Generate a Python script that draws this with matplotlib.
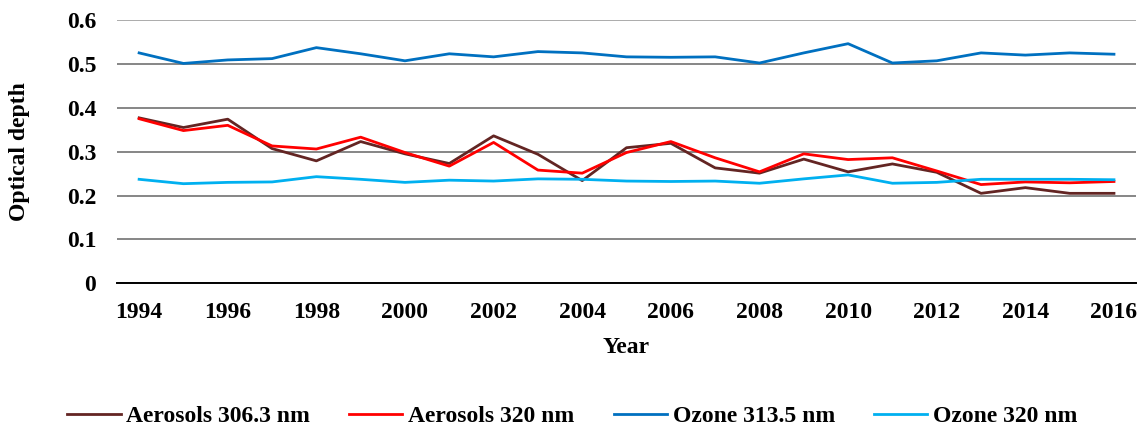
import matplotlib.pyplot as plt
import numpy as np
from matplotlib.ticker import FuncFormatter

plt.rcParams['font.family'] = ['Liberation Serif', 'DejaVu Serif']

years = list(range(1994, 2017))

aerosols_306 = [0.377, 0.355, 0.374, 0.307, 0.279, 0.323, 0.295, 0.273, 0.336, 0.294,
                0.234, 0.309, 0.319, 0.263, 0.251, 0.283, 0.254, 0.272, 0.253, 0.205,
                0.218, 0.205, 0.205]
aerosols_320 = [0.375, 0.348, 0.360, 0.313, 0.306, 0.333, 0.298, 0.267, 0.321, 0.258,
                0.251, 0.298, 0.323, 0.286, 0.254, 0.295, 0.282, 0.286, 0.256, 0.225,
                0.231, 0.229, 0.232]
ozone_3135 = [0.525, 0.501, 0.509, 0.512, 0.537, 0.523, 0.507, 0.523, 0.516, 0.528,
              0.525, 0.516, 0.515, 0.516, 0.502, 0.525, 0.546, 0.502, 0.507, 0.525,
              0.520, 0.525, 0.522]
ozone_320 = [0.237, 0.227, 0.230, 0.231, 0.243, 0.237, 0.230, 0.235, 0.233, 0.238,
             0.237, 0.233, 0.232, 0.233, 0.228, 0.238, 0.247, 0.228, 0.230, 0.237,
             0.237, 0.237, 0.236]

labels = ["Aerosols 306.3 nm", "Aerosols 320 nm", "Ozone 313.5 nm", "Ozone 320 nm"]
colors = ["#632523", "#FF0000", "#0070C0", "#00B0F0"]

fig = plt.figure(figsize=(11.4, 4.29), dpi=100)
ax = fig.add_axes([0.1026, 0.3396, 0.894, 0.6138])

for series, lab, col in zip([aerosols_306, aerosols_320, ozone_3135, ozone_320], labels, colors):
    ax.plot(years, series, color=col, linewidth=2.0, label=lab)

ax.set_xlim(1993.5, 2016.5)
ax.set_ylim(0, 0.6)
ax.set_xticks(years[::2])
ax.set_yticks(np.arange(0, 0.61, 0.1))

def dot_formatter(x, pos):
    if abs(x) < 1e-9:
        return "0"
    return "%.1f" % x

ax.yaxis.set_major_formatter(FuncFormatter(dot_formatter))

ax.grid(axis='y', color='#868686', linewidth=1.4)
ax.get_ygridlines()[-1].set_color('#ababab')
ax.set_axisbelow(True)
for side in ['top', 'right', 'left']:
    ax.spines[side].set_visible(False)
ax.spines['bottom'].set_color('black')
ax.spines['bottom'].set_linewidth(1.4)
ax.spines['bottom'].set_zorder(3)
ax.tick_params(length=0, labelsize=17)
ax.tick_params(axis='y', pad=15)
ax.tick_params(axis='x', pad=13.5)
for t in ax.get_xticklabels() + ax.get_yticklabels():
    t.set_fontweight('bold')

ax.set_xlabel('Year', fontsize=17, fontweight='bold', va='center')
ax.xaxis.set_label_coords(0.5, -0.245)
ax.set_ylabel('Optical depth', fontsize=17, fontweight='bold', va='center')
ax.yaxis.set_label_coords(-0.096, 0.5)

fig.legend(loc='center', bbox_to_anchor=(0.502, 0.029), ncol=4, frameon=False,
           prop={'size': 17, 'weight': 'bold'}, handlelength=2.25, handletextpad=0.25,
           columnspacing=1.65)

fig.savefig('out.png', dpi=100)
